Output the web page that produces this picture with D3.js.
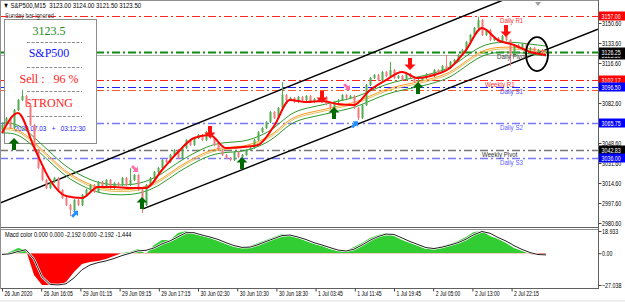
<!DOCTYPE html>
<html>
<head>
<meta charset="utf-8">
<script src="https://cdn.jsdelivr.net/npm/d3@7"></script>
<style>
body { margin: 0; background: #fff; }
svg { display: block; }
text { font-family: "Liberation Sans", "DejaVu Sans", sans-serif; }
.serif { font-family: "Liberation Serif", "DejaVu Serif", serif; }
</style>
</head>
<body>
<div id="chart"></div>
<script>

// ---- data ----
var closes = [3063.9, 3069.8, 3061.35, 3076.65, 3085.15, 3088.55, 3080.9, 3063.9, 3042.65, 3027.35,
  3017.15, 3010.35, 3015.45, 3018.85, 3008.65, 3001.85, 2995.9, 2991.65, 3000.15, 2995.9,
  3004.4, 3008.65, 3012.9, 3006.95, 3015.45, 3012.05, 3017.15, 3010.35, 3014.6, 3012.9,
  3018.85, 3012.9, 3017.15, 3021.4, 3008.65, 2995.9, 3012.9, 3018.85, 3023.95, 3027.35,
  3034.15, 3032.45, 3038.4, 3042.65, 3035.85, 3044.35, 3051.15, 3046.9, 3052.85, 3055.4,
  3051.15, 3057.95, 3052.85, 3046.9, 3042.65, 3038.4, 3035.85, 3034.15, 3040.95, 3036.7,
  3038.4, 3042.65, 3044.35, 3051.15, 3057.95, 3061.35, 3066.45, 3074.95, 3069.85, 3078.35,
  3089.4, 3085.15, 3086.85, 3083.45, 3087.7, 3085.15, 3088.55, 3083.45, 3086.0, 3084.3,
  3087.7, 3081.75, 3078.35, 3083.45, 3085.15, 3089.4, 3086.85, 3088.55, 3078.35, 3069.85,
  3080.9, 3097.9, 3103.85, 3106.4, 3102.15, 3108.95, 3105.55, 3110.65, 3103.85, 3105.55,
  3102.15, 3107.25, 3104.7, 3100.45, 3102.15, 3103.85, 3107.25, 3105.55, 3110.65, 3108.95,
  3114.05, 3112.35, 3117.45, 3119.15, 3123.4, 3127.65, 3134.45, 3140.4, 3146.35, 3153.15,
  3140.4, 3144.65, 3136.15, 3137.85, 3134.45, 3139.55, 3136.15, 3123.4, 3131.9, 3129.35,
  3132.75, 3127.65, 3129.35, 3125.95, 3127.65, 3123.5];
var firstOpen = 3060.0;

// long wicks that stand out
var spikeBars = [5, 17, 32, 35, 70, 89, 97, 111, 119, 127];
var spikeHigh = [3093.6, null, 3027.3, null, 3100.4, null, 3117.4, 3123.4, 3156.0, null];
var spikeLow  = [null, 2986.5, null, 2989.1, null, 3068.1, null, null, null, 3114.0];

// moving averages, one value every 4 bars
var redMA = [3057.1, 3074.1, 3045.2, 3017.15, 3003.55, 3001.85, 3011.2, 3011.2, 3010.35, 3010.35,
  3025.65, 3040.95, 3052.85, 3055.4, 3044.35, 3045.2, 3046.9, 3063.05, 3085.15, 3083.45,
  3084.3, 3081.75, 3080.9, 3093.65, 3102.15, 3108.95, 3103.85, 3106.4, 3112.35, 3127.65,
  3146.35, 3136.15, 3131.9, 3125.95, 3123.4];
var slowMA = [3061.35, 3061.35, 3049.45, 3036.7, 3023.95, 3016.3, 3010.35, 3008.65, 3008.65, 3011.2,
  3018.0, 3028.2, 3035.85, 3042.65, 3045.2, 3045.2, 3049.45, 3056.25, 3069.85, 3074.1,
  3076.65, 3080.05, 3082.6, 3088.55, 3094.5, 3097.85, 3100.45, 3103.85, 3108.1, 3118.3,
  3127.65, 3130.2, 3130.2, 3128.5, 3126.85];
var envelope = 4.2;

// pivot levels
var levelNames  = ["Daily R1", "Daily Pivot", "Weekly R1", "Daily S1", "", "Daily S2", "Weekly Pivot", "Daily S3"];
var levelPrices = [3157.00, 3126.25, 3102.17, 3096.50, 3093.3, 3065.75, 3042.83, 3036.00];
var bidPrice = 3123.50;

var priceTicks = [2980.6, 2997.6, 3014.6, 3031.6, 3048.6, 3082.6, 3116.6, 3133.6, 3150.6];

// signal arrows: bar index and price of the tip
var upBars = [3, 35, 60, 83, 104],    upPrices = [3052.9, 3002.7, 3036.7, 3079.2, 3100.4];
var downBars = [52, 80, 102, 126],    downPrices = [3052.8, 3082.6, 3110.6, 3138.7];
var blueBars = [19, 89],              bluePrices = [2991.0, 3067.0];
var pinkBars = [34, 87],              pinkPrices = [3024.0, 3093.6];

// channel
var lowerChannel = [[35.25, 2992.6], [149, 3145.3]];
var upperChannel = [[-0.5, 2997.6], [125.25, 3170.1]];
var circleBar = 133.75, circlePrice = 3124.2;

// MACD histogram and signal, one value every 2 bars
var macdHist = [-1.5, 1.0, 4.4, 2.7, -18.5, -27.0, -27.0, -27.0, -24.5, -16.0,
  -9.2, -7.5, -6.6, -4.9, -2.4, 0.2, 1.0, 3.6, -0.7, 7.0,
  11.2, 11.2, 17.2, 18.9, 16.3, 14.6, 13.0, 10.4, 7.8, 5.3,
  4.4, 6.1, 8.7, 11.2, 13.8, 16.3, 14.6, 13.0, 10.4, 7.8,
  6.1, 3.6, 1.9, 1.9, 5.3, 8.7, 13.0, 15.5, 17.2, 14.6,
  11.2, 8.7, 6.1, 3.6, 4.4, 6.1, 7.8, 10.4, 13.8, 18.0,
  18.9, 14.6, 12.1, 8.7, 4.4, 1.9, -0.7, -1.5, -1.5];
var macdSignal = [-1.0, -0.5, 1.5, 3.0, -5, -20, -26.5, -27, -26, -21,
  -14, -10, -8, -6.5, -4.5, -2, 0, 2, 2.5, 4.5,
  8, 10.5, 14, 17.5, 17.5, 15.5, 13.8, 11.8, 9, 6.5,
  5, 5.2, 7.3, 10, 12.5, 15, 15.5, 13.8, 11.7, 9,
  7, 4.8, 2.7, 1.9, 3.5, 7, 11, 14.2, 16.3, 16,
  13, 10, 7.4, 4.8, 4, 5.2, 7, 9, 12, 15.9,
  18.5, 17, 13.4, 10.4, 6.5, 3.2, 0.6, -1.1, -1.4];
var macdTicks = [18.933, 0.00, -27.038];

var timePos = [0, 9.8, 19.6, 29.4, 39.2, 49, 58.8, 68.6, 78.4, 88.2, 98, 107.8, 117.6, 127.4];
var timeLabels = ["26 Jun 2020", "26 Jun 16:05", "29 Jun 01:15", "29 Jun 09:15", "29 Jun 17:15",
  "30 Jun 02:30", "30 Jun 10:30", "30 Jun 18:30", "1 Jul 03:45", "1 Jul 11:45",
  "1 Jul 19:45", "2 Jul 05:00", "2 Jul 13:00", "2 Jul 22:15"];

// ---- layout ----
var W = 625, H = 302, plotRight = 598, mainBottom = 227, subTop = 229, subBottom = 288;

// squeeze small text so it looks like the narrow terminal font
function condense(sel, f) {
  sel.each(function() {
    var w = this.getComputedTextLength();
    d3.select(this).attr("textLength", w * f).attr("lengthAdjust", "spacingAndGlyphs");
  });
}

var svg = d3.select("#chart").append("svg")
    .attr("width", W).attr("height", H);

svg.append("rect").attr("x", 0).attr("y", 300).attr("width", W).attr("height", 2).attr("fill", "#eeeeee");

var x = d3.scaleLinear().domain([0, closes.length - 1]).range([2, 542]);
var y = d3.scaleLinear().domain([2980.6, 3157]).range([223, 15.5]);
var ym = d3.scaleLinear().domain([-27.038, 18.933]).range([285, 231]);

var defs = svg.append("defs");
defs.append("clipPath").attr("id", "clipMain")
  .append("rect").attr("x", 0).attr("y", 1).attr("width", plotRight).attr("height", mainBottom - 1);
defs.append("clipPath").attr("id", "clipPos")
  .append("rect").attr("x", 0).attr("y", subTop).attr("width", plotRight).attr("height", ym(0) - subTop);
defs.append("clipPath").attr("id", "clipNeg")
  .append("rect").attr("x", 0).attr("y", ym(0)).attr("width", plotRight).attr("height", subBottom - ym(0));

var main = svg.append("g").attr("clip-path", "url(#clipMain)");

// pivot lines
var levelStyle = [
  {c: "#ff2020", w: 1,   t: "#ff3030", tx: 500},
  {c: "#108a10", w: 2,   t: "#404040", tx: 497},
  {c: "#ff2020", w: 1,   t: "#ff3030", tx: 485},
  {c: "#2020ff", w: 1,   t: "#4a4aff", tx: 500},
  {c: "#ff5a1e", w: 1,   t: "#ff5a1e", tx: 500},
  {c: "#7878ff", w: 1.5, t: "#6060ff", tx: 500},
  {c: "#777777", w: 1.5, t: "#333333", tx: 482},
  {c: "#7878ff", w: 1.5, t: "#6060ff", tx: 500}
];
levelPrices.forEach(function(p, i) {
  var s = levelStyle[i];
  main.append("line").attr("x1", 0).attr("x2", plotRight)
      .attr("y1", Math.round(y(p)) + 0.5).attr("y2", Math.round(y(p)) + 0.5)
      .attr("stroke", s.c).attr("stroke-width", s.w).attr("stroke-dasharray", "8,3,2,3");
});
// bid line
main.append("line").attr("x1", 0).attr("x2", plotRight)
    .attr("y1", Math.round(y(bidPrice)) + 0.5).attr("y2", Math.round(y(bidPrice)) + 0.5)
    .attr("stroke", "#b4b4b4").attr("stroke-width", 1);

// channel
var chLine = d3.line().x(function(d) { return x(d[0]); }).y(function(d) { return y(d[1]); });
[lowerChannel, upperChannel].forEach(function(c) {
  main.append("path").attr("d", chLine(c)).attr("fill", "none")
      .attr("stroke", "#000").attr("stroke-width", 1.5);
});

// info panel: above the level lines, under the candles
var info = main.append("g");
info.append("rect").attr("x", 4.5).attr("y", 19.5).attr("width", 92).attr("height", 124)
    .attr("fill", "#fff").attr("stroke", "#8c8c8c");
var infoText = ["3123.5", "S&P500", "Sell :   96 %", "STRONG"];
var infoColor = ["#1a8a1a", "#1414ff", "#ff1a1a", "#ff1a1a"];
var infoY = [35, 57, 83, 107];
infoText.forEach(function(t, i) {
  info.append("text").attr("class", "serif").attr("x", 49).attr("y", infoY[i])
      .attr("text-anchor", "middle").attr("font-size", 12).attr("fill", infoColor[i])
      .style("white-space", "pre").text(t);
});
[42, 67, 91, 116].forEach(function(yy) {
  info.append("line").attr("x1", 27).attr("x2", 82).attr("y1", yy + 0.5).attr("y2", yy + 0.5)
      .attr("stroke", "#8c8c8c").attr("stroke-dasharray", "3,1.5");
});
var dateTxt = info.append("text").attr("x", 50).attr("y", 131).attr("text-anchor", "middle")
    .attr("font-size", 7.5).attr("fill", "#2020ff").style("white-space", "pre")
    .text("2020.07.03   +   03:12:30");
condense(dateTxt, 0.85);

// envelope + slow average
var maX = function(d, i) { return x(i * 4); };
var bandLine = function(off) {
  return d3.line().x(maX).y(function(d) { return y(d + off); }).curve(d3.curveBasis);
};
main.append("path").attr("d", bandLine(envelope)(slowMA)).attr("fill", "none").attr("stroke", "#2f9a2f").attr("stroke-width", 1);
main.append("path").attr("d", bandLine(-envelope)(slowMA)).attr("fill", "none").attr("stroke", "#2f9a2f").attr("stroke-width", 1);
main.append("path").attr("d", bandLine(-envelope * 0.35)(slowMA)).attr("fill", "none").attr("stroke", "#e0c060").attr("stroke-width", 1);
main.append("path").attr("d", bandLine(0)(slowMA)).attr("fill", "none").attr("stroke", "#ff9a20").attr("stroke-width", 1);

// candles
var candles = closes.map(function(c, i) {
  var o = i ? closes[i - 1] : firstOpen;
  var hi = Math.max(o, c) + 0.9, lo = Math.min(o, c) - 0.9;
  var k = spikeBars.indexOf(i);
  if (k >= 0) {
    if (spikeHigh[k] != null) hi = spikeHigh[k];
    if (spikeLow[k] != null) lo = spikeLow[k];
  }
  return {i: i, o: o, c: c, hi: hi, lo: lo};
});
var upCol = "#52ad52", dnCol = "#f27a7a";
var cg = main.append("g");
cg.selectAll("line.wick").data(candles).enter().append("line")
    .attr("class", "wick")
    .attr("x1", function(d) { return Math.round(x(d.i)) + 0.5; })
    .attr("x2", function(d) { return Math.round(x(d.i)) + 0.5; })
    .attr("y1", function(d) { return y(d.hi); })
    .attr("y2", function(d) { return y(d.lo); })
    .attr("stroke", function(d) { return d.c >= d.o ? upCol : dnCol; });
cg.selectAll("rect.body").data(candles).enter().append("rect")
    .attr("class", "body")
    .attr("x", function(d) { return Math.round(x(d.i)) - 0.5; })
    .attr("width", 2)
    .attr("y", function(d) { return y(Math.max(d.o, d.c)); })
    .attr("height", function(d) { return Math.max(1, Math.abs(y(d.o) - y(d.c))); })
    .attr("fill", function(d) { return d.c >= d.o ? upCol : dnCol; });

// fast average
main.append("path")
    .attr("d", d3.line().x(maX).y(function(d) { return y(d); }).curve(d3.curveMonotoneX)(redMA))
    .attr("fill", "none").attr("stroke", "#ff0000").attr("stroke-width", 2);

// arrows
var arrowD = "M0,0L5.5,5.5L2,5.5L2,12L-2,12L-2,5.5L-5.5,5.5Z";
function drawArrows(bars, prices, col, tf) {
  bars.forEach(function(b, i) {
    main.append("path").attr("d", arrowD).attr("fill", col)
        .attr("transform", "translate(" + x(b) + "," + y(prices[i]) + ")" + tf);
  });
}
drawArrows(upBars, upPrices, "#006a00", "");
drawArrows(downBars, downPrices, "#ff1010", " scale(1,-1)");
drawArrows(blueBars, bluePrices, "#2090ff", " rotate(45) scale(0.7)");
drawArrows(pinkBars, pinkPrices, "#ff70b0", " rotate(135) scale(0.7)");

// circle
main.append("ellipse").attr("cx", x(circleBar)).attr("cy", y(circlePrice))
    .attr("rx", 11).attr("ry", 17).attr("fill", "none").attr("stroke", "#000").attr("stroke-width", 1.8);

// level names
levelNames.forEach(function(n, i) {
  if (!n) return;
  var t = main.append("text").attr("x", levelStyle[i].tx).attr("y", Math.round(y(levelPrices[i])) + 7)
      .attr("font-size", 7.5).attr("fill", levelStyle[i].t).text(n);
  condense(t, 0.82);
});

// header
var hdr = svg.append("text").attr("x", 3).attr("y", 8).attr("font-size", 7.5).attr("fill", "#000")
    .style("white-space", "pre").text("\u25BC S&P500,M15  3123.00 3124.00 3121.50 3123.50");
condense(hdr, 0.8);
var sun = svg.append("text").attr("x", 5).attr("y", 18).attr("font-size", 7).attr("fill", "#444")
    .text("Sunday bar ignored");
condense(sun, 0.8);
svg.append("path").attr("d", "M535,2L541,2L538,6Z").attr("fill", "#a0a0a0");

// MACD window
var sub = svg.append("g");
var mx = function(d, i) { return x(i * 2); };
var histArea = d3.area().x(mx).y0(ym(0)).y1(function(d) { return ym(d); });
sub.append("path").attr("d", histArea(macdHist)).attr("fill", "#32cd32").attr("clip-path", "url(#clipPos)");
sub.append("path").attr("d", histArea(macdHist)).attr("fill", "#ff0000").attr("clip-path", "url(#clipNeg)");
sub.append("path")
    .attr("d", d3.line().x(mx).y(function(d) { return ym(d); })(macdSignal))
    .attr("fill", "none").attr("stroke", "#ffffff").attr("stroke-width", 2.2);
sub.append("path")
    .attr("d", d3.line().x(mx).y(function(d) { return ym(d); })(macdSignal))
    .attr("fill", "none").attr("stroke", "#202020").attr("stroke-width", 1);
var mt = sub.append("text").attr("x", 5).attr("y", 237).attr("font-size", 7).attr("fill", "#000")
    .text("Macd color 0.000 0.000 -2.192 0.000 -2.192 -1.444");
condense(mt, 0.8);

// cover anything past the right edge
svg.append("rect").attr("x", plotRight + 1).attr("y", 0).attr("width", W - plotRight).attr("height", 300).attr("fill", "#fff");

// frames
svg.append("line").attr("x1", 0).attr("x2", plotRight).attr("y1", 0.5).attr("y2", 0.5).attr("stroke", "#909090");
svg.append("line").attr("x1", 0).attr("x2", plotRight).attr("y1", mainBottom + 0.5).attr("y2", mainBottom + 0.5).attr("stroke", "#606060");
svg.append("line").attr("x1", 0).attr("x2", plotRight).attr("y1", subTop + 0.5).attr("y2", subTop + 0.5).attr("stroke", "#909090");
svg.append("line").attr("x1", 0).attr("x2", plotRight).attr("y1", subBottom + 0.5).attr("y2", subBottom + 0.5).attr("stroke", "#606060");
svg.append("line").attr("x1", plotRight + 0.5).attr("x2", plotRight + 0.5).attr("y1", 0).attr("y2", subBottom + 1).attr("stroke", "#606060");
svg.append("line").attr("x1", 0.5).attr("x2", 0.5).attr("y1", 0).attr("y2", subBottom + 1).attr("stroke", "#909090");

// price axis
var yAxis = d3.axisRight(y).tickValues(priceTicks).tickSize(3).tickFormat(d3.format(".2f"));
var ya = svg.append("g").attr("transform", "translate(" + (plotRight + 0.5) + ",0)").call(yAxis);
ya.select(".domain").remove();
ya.selectAll("text").attr("font-size", 7).attr("fill", "#000").attr("x", 3.5);
ya.selectAll("line").attr("stroke", "#444");
condense(ya.selectAll("text"), 0.76);

// price boxes (bid first so the pivot box sits over it)
var boxFill = ["#ff0000", "#000000", "#ff0000", "#0000ff", null, "#0000ff", "#000000", "#0000ff"];
function priceBox(p, fill) {
  var yy = Math.round(y(p));
  svg.append("rect").attr("x", plotRight + 1).attr("y", yy - 4.5).attr("width", W - plotRight - 1).attr("height", 9).attr("fill", fill);
  var t = svg.append("text").attr("x", plotRight + 3.5).attr("y", yy + 3).attr("font-size", 7)
      .attr("fill", "#fff").text(d3.format(".2f")(p));
  condense(t, 0.76);
}
priceBox(bidPrice, "#000000");
levelPrices.forEach(function(p, i) { if (boxFill[i]) priceBox(p, boxFill[i]); });

// MACD axis
var mAxis = d3.axisRight(ym).tickValues(macdTicks).tickSize(3)
    .tickFormat(function(d) { return d === 0 ? "0.00" : d3.format(".3f")(d); });
var ma = svg.append("g").attr("transform", "translate(" + (plotRight + 0.5) + ",0)").call(mAxis);
ma.select(".domain").remove();
ma.selectAll("text").attr("font-size", 7).attr("fill", "#000").attr("x", 3.5);
ma.selectAll("line").attr("stroke", "#444");
condense(ma.selectAll("text"), 0.76);

// time axis
var xAxis = d3.axisBottom(x).tickValues(timePos).tickSize(3)
    .tickFormat(function(d, i) { return timeLabels[i]; });
var xa = svg.append("g").attr("transform", "translate(0," + (subBottom + 0.5) + ")").call(xAxis);
xa.select(".domain").remove();
xa.selectAll("text").attr("font-size", 7).attr("fill", "#000")
    .attr("text-anchor", "start").attr("dx", 2).attr("y", 3);
xa.selectAll("line").attr("stroke", "#444");
condense(xa.selectAll("text"), 0.72);

</script>
</body>
</html>
